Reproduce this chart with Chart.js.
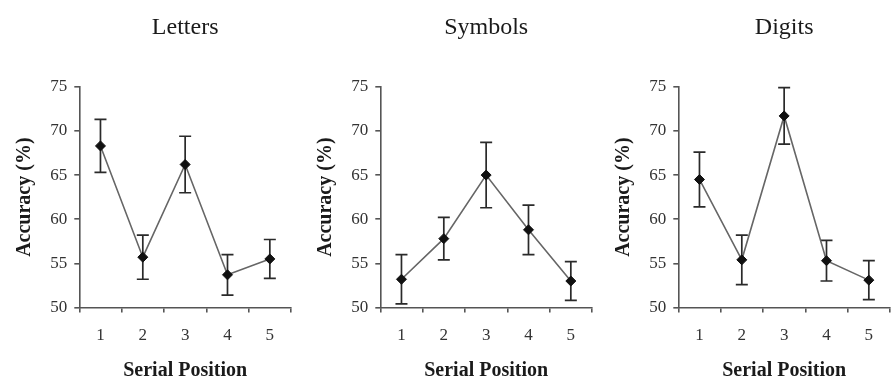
<!DOCTYPE html>
<html>
<head>
<meta charset="utf-8">
<script src="https://cdn.jsdelivr.net/npm/chart.js@4/dist/chart.umd.min.js"></script>
<style>
  html, body { margin: 0; padding: 0; background: #ffffff; }
  #wrap { position: relative; width: 896px; height: 383px; overflow: hidden; background: #fff; }
  .panel { position: absolute; top: 0; width: 297px; height: 383px; }
</style>
</head>
<body>
<div id="wrap">
  <div class="panel" style="left:0px"><canvas id="c1"></canvas></div>
  <div class="panel" style="left:300.7px"><canvas id="c2"></canvas></div>
  <div class="panel" style="left:599px"><canvas id="c3"></canvas></div>
</div>
<script>
// ---- data ----
const positions = ['1', '2', '3', '4', '5'];
const yTicksMin = 50;
const yTicksMax = 75;
const yTicksStep = 5;

const lettersMean = [68.3, 55.7, 66.2, 53.7, 55.5];
const lettersErr  = [3.0, 2.5, 3.2, 2.3, 2.2];

const symbolsMean = [53.2, 57.8, 65.0, 58.8, 53.0];
const symbolsErr  = [2.8, 2.4, 3.7, 2.8, 2.2];

const digitsMean = [64.5, 55.4, 71.7, 55.3, 53.1];
const digitsErr  = [3.1, 2.8, 3.2, 2.3, 2.2];

const panelTitles = ['Letters', 'Symbols', 'Digits'];
const yTitle = 'Accuracy (%)';
const xTitle = 'Serial Position';

const SERIF = '"Liberation Serif", "Times New Roman", Times, serif';

const errorBars = {
  id: 'errorBars',
  beforeDatasetsDraw(chart, args, opts) {
    const ctx = chart.ctx;
    const xs = chart.scales.x, ys = chart.scales.y;
    const means = chart.data.datasets[0].data;
    const errs = opts.errs || [];
    ctx.save();
    ctx.strokeStyle = '#2a2a2a';
    ctx.lineWidth = 1.7;
    means.forEach((m, i) => {
      const e = errs[i];
      const x = xs.getPixelForValue(i);
      const yt = ys.getPixelForValue(m + e);
      const yb = ys.getPixelForValue(m - e);
      ctx.beginPath();
      ctx.moveTo(x, yt); ctx.lineTo(x, yb);
      ctx.moveTo(x - 6, yt); ctx.lineTo(x + 6, yt);
      ctx.moveTo(x - 6, yb); ctx.lineTo(x + 6, yb);
      ctx.stroke();
    });
    ctx.restore();
  }
};

function makeChart(id, title, means, errs) {
  return new Chart(document.getElementById(id), {
    type: 'line',
    data: {
      labels: positions,
      datasets: [{
        data: means,
        borderColor: '#666666',
        borderWidth: 1.6,
        pointStyle: 'rectRot',
        pointRadius: 5,
        pointBackgroundColor: '#111111',
        pointBorderColor: '#111111',
        pointBorderWidth: 1,
        tension: 0,
        fill: false
      }]
    },
    options: {
      responsive: true,
      maintainAspectRatio: false,
      animation: false,
      devicePixelRatio: 1,
      layout: { padding: { left: 0, right: 1, top: 0, bottom: 0 } },
      plugins: {
        legend: { display: false },
        tooltip: { enabled: false },
        title: {
          display: true,
          text: title,
          fullSize: false,
          color: '#1a1a1a',
          font: { family: SERIF, size: 24, weight: 'normal', lineHeight: 1.2 },
          padding: { top: 13, bottom: 45 }
        },
        errorBars: { errs: errs }
      },
      scales: {
        x: {
          type: 'category',
          offset: true,
          afterFit(scale) { scale.height = 75.5; },
          grid: {
            offset: true,
            drawOnChartArea: false,
            drawTicks: true,
            tickLength: 5,
            color: '#555555',
            lineWidth: 1.6
          },
          border: { display: true, color: '#555555', width: 1.6 },
          ticks: {
            color: '#333333',
            padding: 13,
            maxRotation: 0,
            font: { family: SERIF, size: 17 }
          },
          title: {
            display: true,
            text: xTitle,
            color: '#1a1a1a',
            font: { family: SERIF, size: 20, weight: 'bold', lineHeight: 1.2 },
            padding: { top: 0, bottom: 0 }
          }
        },
        y: {
          min: yTicksMin,
          max: yTicksMax,
          afterFit(scale) { scale.width = 79.3; },
          grid: {
            drawOnChartArea: false,
            drawTicks: true,
            tickLength: 5,
            color: '#555555',
            lineWidth: 1.6
          },
          border: { display: true, color: '#555555', width: 1.6 },
          ticks: {
            stepSize: yTicksStep,
            color: '#333333',
            padding: 7,
            font: { family: SERIF, size: 17 }
          },
          title: {
            display: true,
            text: yTitle,
            color: '#1a1a1a',
            font: { family: SERIF, size: 20, weight: 'bold', lineHeight: 1.2 },
            padding: { top: 13, bottom: 0 }
          }
        }
      }
    },
    plugins: [errorBars]
  });
}

makeChart('c1', panelTitles[0], lettersMean, lettersErr);
makeChart('c2', panelTitles[1], symbolsMean, symbolsErr);
makeChart('c3', panelTitles[2], digitsMean, digitsErr);
</script>
</body>
</html>
